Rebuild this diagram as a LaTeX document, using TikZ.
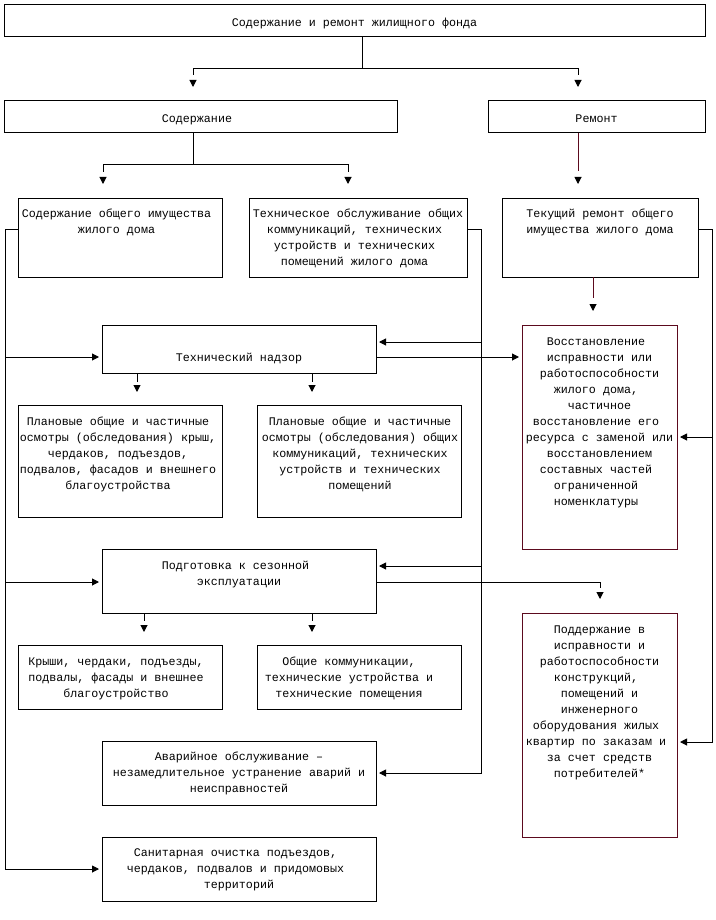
\documentclass[tikz,border=0pt]{standalone}
\usepackage{fontspec}
\setmainfont{Liberation Mono}
\usetikzlibrary{arrows.meta}
\definecolor{darkline}{HTML}{5C0A1E}
\newcommand\tsp{\hphantom{x}}
\newcommand\fst{\rule{0pt}{12pt}}
\begin{document}
\begin{tikzpicture}[x=1pt,y=-1pt,
  box/.style={draw, line width=1pt, anchor=north west, inner sep=0pt, outer sep=0pt},
  txt/.style={anchor=north, inner sep=0pt, align=center, font=\fontsize{11.67}{16}\selectfont},
  ln/.style={line width=1pt},
  arr/.style={ln, -{Triangle[length=7pt,width=7pt]}, shorten >=3pt},
  tipa/.style={ln, -{Triangle[length=7pt,width=7pt]}},
]
\useasboundingbox (0,0) rectangle (715,920);

% boxes
\node[box, minimum width=701pt, minimum height=32pt] (top) at (4,5) {};
\node[box, minimum width=393pt, minimum height=32pt] (sod) at (4,101) {};
\node[box, minimum width=217pt, minimum height=32pt] (rem) at (488,101) {};
\node[box, minimum width=204pt, minimum height=79pt] (sodobsh) at (18,198) {};
\node[box, minimum width=218pt, minimum height=79pt] (tech) at (249,198) {};
\node[box, minimum width=196pt, minimum height=79pt] (tek) at (502,198) {};
\node[box, minimum width=274pt, minimum height=48pt] (nadzor) at (102,325) {};
\node[box, minimum width=204pt, minimum height=112pt] (plan1) at (18,405) {};
\node[box, minimum width=204pt, minimum height=112pt] (plan2) at (257,405) {};
\node[box, draw=darkline, minimum width=155pt, minimum height=224pt] (vosst) at (522,325) {};
\node[box, minimum width=274pt, minimum height=64pt] (podg) at (102,549) {};
\node[box, minimum width=204pt, minimum height=64pt] (krysh) at (18,645) {};
\node[box, minimum width=204pt, minimum height=64pt] (obsh) at (257,645) {};
\node[box, draw=darkline, minimum width=155pt, minimum height=224pt] (podd) at (522,613) {};
\node[box, minimum width=274pt, minimum height=64pt] (avar) at (102,741) {};
\node[box, minimum width=274pt, minimum height=64pt] (sanit) at (102,837) {};

% texts
\node[txt] (top-t) at (354.5,14) {\fst Содержание и ремонт жилищного фонда};
\node[txt] (sod-t) at (200.5,110) {\fst Содержание\tsp};
\node[txt] (rem-t) at (596.5,110) {\fst Ремонт};
\node[txt] (sodobsh-t) at (116.5,205.3) {\fst Содержание общего имущества\\жилого дома};
\node[txt] (tech-t) at (358,205.3) {\fst Техническое обслуживание общих\\коммуникаций, технических\tsp\\устройств и технических\tsp\\помещений жилого дома\tsp};
\node[txt] (tek-t) at (600,205.3) {\fst Текущий ремонт общего\\имущества жилого дома};
\node[txt] (nadzor-t) at (239,349) {\fst Технический надзор};
\node[txt] (plan1-t) at (118,413.5) {\fst Плановые общие и частичные\\осмотры (обследования) крыш,\\чердаков, подъездов,\\подвалов, фасадов и внешнего\\благоустройства};
\node[txt] (plan2-t) at (360,413.5) {\fst Плановые общие и частичные\\осмотры (обследования) общих\\коммуникаций, технических\\устройств и технических\\помещений};
\node[txt] (vosst-t) at (599.5,333.7) {\fst Восстановление\tsp\\исправности или\\работоспособности\\жилого дома,\tsp\\частичное\\восстановление его\tsp\\ресурса с заменой или\\восстановлением\\составных частей\tsp\\ограниченной\tsp\\номенклатуры\tsp};
\node[txt] (podg-t) at (239,557.3) {\fst Подготовка к сезонной\tsp\\эксплуатации};
\node[txt] (krysh-t) at (116,653.7) {\fst Крыши, чердаки, подъезды,\\подвалы, фасады и внешнее\\благоустройство};
\node[txt] (obsh-t) at (349,653.7) {\fst Общие коммуникации,\\технические устройства и\\технические помещения};
\node[txt] (podd-t) at (599.5,621.3) {\fst Поддержание в\\исправности и\\работоспособности\\конструкций,\tsp\\помещений и\\инженерного\\оборудования жилых\tsp\\квартир по заказам и\tsp\\за счет средств\\потребителей*};
\node[txt] (avar-t) at (239,748.7) {\fst Аварийное обслуживание –\\незамедлительное устранение аварий и\\неисправностей};
\node[txt] (sanit-t) at (239,844.7) {\fst Санитарная очистка подъездов,\tsp\\чердаков, подвалов и придомовых\tsp\\территорий};

% arrow targets (points on target box tops)
\coordinate (aSod) at (sod.north -| 193,0);
\coordinate (aRem) at (rem.north -| 578,0);
\coordinate (aSob) at (sodobsh.north -| 103,0);
\coordinate (aTech) at (tech.north -| 348,0);
\coordinate (aTek) at (tek.north -| 578,0);
\coordinate (aVos) at (vosst.north -| 593,0);
\coordinate (aPodd) at (podd.north -| 600,0);
\coordinate (aPl1) at (plan1.north -| 137,0);
\coordinate (aPl2) at (plan2.north -| 312,0);
\coordinate (aKr) at (krysh.north -| 144,0);
\coordinate (aOb) at (obsh.north -| 312,0);

% top level split
\coordinate (j1) at (362,69);
\draw[ln] (top.south -| j1) -- (j1);
\draw[ln, shorten >=26pt] (j1) -| (aSod);
\draw[ln, shorten >=26pt] (j1) -| (aRem);
\draw[tipa, shorten >=14pt] ([yshift=21pt]aSod) -- (aSod);
\draw[tipa, shorten >=14pt] ([yshift=21pt]aRem) -- (aRem);

% Содержание split
\coordinate (j2) at (193,165);
\draw[ln] (sod.south -| j2) -- (j2);
\draw[ln, shorten >=26pt] (j2) -| (aSob);
\draw[ln, shorten >=26pt] (j2) -| (aTech);
\draw[tipa, shorten >=14pt] ([yshift=21pt]aSob) -- (aSob);
\draw[tipa, shorten >=14pt] ([yshift=21pt]aTech) -- (aTech);

% Ремонт -> Текущий ремонт, Текущий ремонт -> Восстановление
\draw[ln, darkline, shorten >=27pt] (rem.south -| aTek) -- (aTek);
\draw[tipa, shorten >=14pt] ([yshift=21pt]aTek) -- (aTek);
\draw[ln, darkline, shorten >=27pt] (tek.south -| aVos) -- (aVos);
\draw[tipa, shorten >=14pt] ([yshift=21pt]aVos) -- (aVos);

% left bus
\coordinate (lbt) at (5,229);
\coordinate (lb1) at (5,357);
\coordinate (lb2) at (5,582);
\coordinate (lbb) at (5,869);
\draw[arr] (sodobsh.west |- lbt) -- (lbt) -- (lbb) -- (sanit.west |- lbb);
\draw[arr] (lb1) -- (nadzor.west |- lb1);
\draw[arr] (lb2) -- (podg.west |- lb2);

% middle bus
\coordinate (mbt) at (481,229);
\coordinate (mb1) at (481,342);
\coordinate (mb2) at (481,566);
\coordinate (mbb) at (481,773);
\draw[arr] (tech.east |- mbt) -- (mbt) -- (mbb) -- (avar.east |- mbb);
\draw[arr] (mb1) -- (nadzor.east |- mb1);
\draw[arr] (mb2) -- (podg.east |- mb2);

% right bus
\coordinate (rbt) at (712,229);
\coordinate (rb1) at (712,437);
\coordinate (rbb) at (712,742);
\draw[arr] (tek.east |- rbt) -- (rbt) -- (rbb) -- (podd.east |- rbb);
\draw[arr] (rb1) -- (vosst.east |- rb1);

% Технический надзор -> Восстановление
\draw[arr] (nadzor.east |- 0,357) -- (vosst.west |- 0,357);

% Подготовка -> Поддержание
\coordinate (pj) at (600,582);
\draw[ln, shorten >=25pt] (podg.east |- pj) -- (pj) -- (aPodd);
\draw[tipa, shorten >=14pt] ([yshift=21pt]aPodd) -- (aPodd);

% Технический надзор drops
\draw[ln, shorten >=23pt] (nadzor.south -| aPl1) -- (aPl1);
\draw[ln, shorten >=23pt] (nadzor.south -| aPl2) -- (aPl2);
\draw[tipa, shorten >=13pt] ([yshift=20pt]aPl1) -- (aPl1);
\draw[tipa, shorten >=13pt] ([yshift=20pt]aPl2) -- (aPl2);

% Подготовка drops
\draw[ln, shorten >=24pt] (podg.south -| aKr) -- (aKr);
\draw[ln, shorten >=24pt] (podg.south -| aOb) -- (aOb);
\draw[tipa, shorten >=13pt] ([yshift=20pt]aKr) -- (aKr);
\draw[tipa, shorten >=13pt] ([yshift=20pt]aOb) -- (aOb);
\end{tikzpicture}
\end{document}
